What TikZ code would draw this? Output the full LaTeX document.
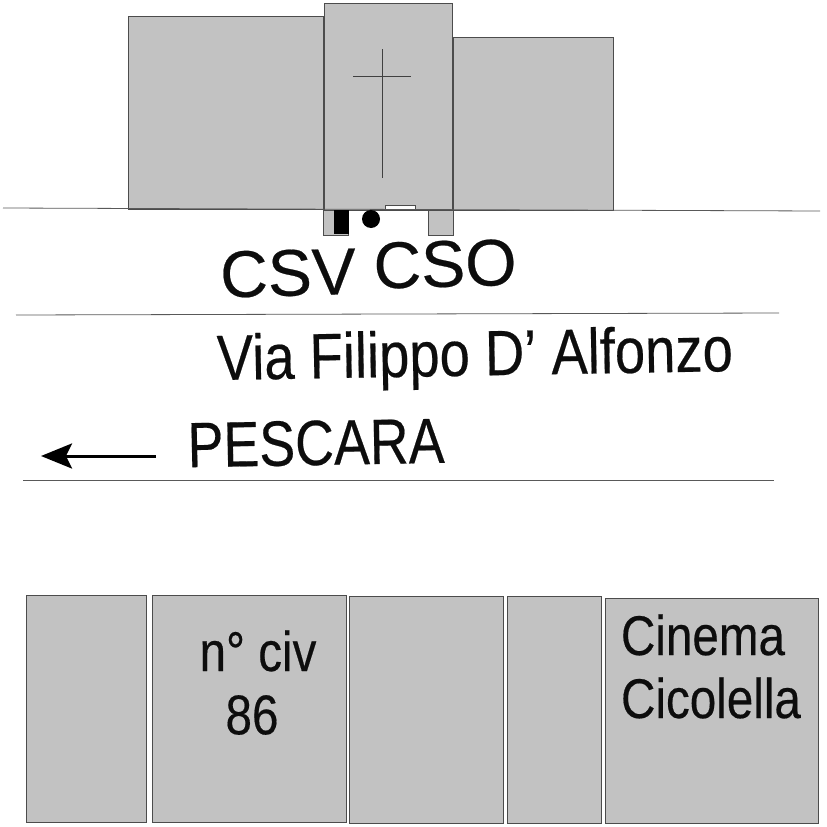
\documentclass[tikz,border=0pt]{standalone}
\usepackage{fontspec}
\usetikzlibrary{arrows.meta}
\setmainfont[FakeBold=0.35]{Liberation Sans}
\tikzset{
 bld/.style={draw=black!70,line width=0.8pt,fill=black!24},
 lbl/.style={inner sep=0pt,text=black!95},
 road/.style={draw=black!65,line width=0.8pt}
}
\newcommand{\pbox}[5]{\node[bld,anchor=north west,minimum width=#4*1pt-#2*1pt,minimum height=#5*1pt-#3*1pt,inner sep=0pt] (#1) at (#2pt,-#3pt) {};}
\begin{document}
\begin{tikzpicture}[x=1pt,y=1pt]
\useasboundingbox (0,-827) rectangle (827,0);
\pbox{b1}{128}{16}{323}{209}
\pbox{b3}{453}{37}{613}{210}
\pbox{st1}{323}{205}{348}{235}
\pbox{st2}{428}{205}{453}{235}
\pbox{ch}{324}{3}{452}{210}
\coordinate (c1) at (382,-49); \coordinate (c2) at (382,-178);
\coordinate (c3) at (353,-76); \coordinate (c4) at (411,-76);
\draw[draw=black!75,line width=0.7pt] (c1)--(c2) (c3)--(c4);
\node[draw=black!70,line width=0.8pt,fill=white,anchor=north west,minimum width=30pt,minimum height=5pt,inner sep=0pt] (door) at (385,-204.5) {};
\node[fill=black,anchor=north west,minimum width=14.5pt,minimum height=24pt,inner sep=0pt] (csv) at (334,-210) {};
\node[circle,fill=black,minimum size=18pt,inner sep=0pt] (cso) at (371,-219) {};
\coordinate (r1a) at (3,-208); \coordinate (r1b) at (820,-211);
\coordinate (r2a) at (16,-315); \coordinate (r2b) at (779,-313);
\coordinate (r3a) at (23,-480); \coordinate (r3b) at (774,-480);
\draw[road] (r1a)--(r1b); \draw[road] (r2a)--(r2b); \draw[road] (r3a)--(r3b);
\node[lbl,rotate=1.5,font=\fontsize{66}{66}\selectfont] (tcsv) at (288,-273) {CSV};
\node[lbl,rotate=1.5,font=\fontsize{66}{66}\selectfont] (tcso) at (445,-264) {CSO};
\node[lbl,rotate=1,xscale=.85,font=\fontsize{64}{64}\selectfont] (tvia) at (475,-359) {Via Filippo D’ Alfonzo};
\node[lbl,rotate=1,xscale=.84,font=\fontsize{64}{64}\selectfont] (tpes) at (316,-443) {PESCARA};
\coordinate (a1) at (156,-456); \coordinate (a2) at (41,-456);
\draw[-{Stealth[length=31pt,width=25pt,inset=6pt]},line width=3pt,black] (a1)--(a2);
\pbox{h1}{26}{595}{146}{822}
\pbox{h2}{152}{595}{346}{822}
\pbox{h3}{349}{596}{503}{823}
\pbox{h4}{507}{596}{601}{823}
\pbox{h5}{605}{598}{818}{823}
\node[lbl,xscale=.85,font=\fontsize{56}{56}\selectfont] (tn) at (258,-651) {n° civ};
\node[lbl,xscale=.85,font=\fontsize{56}{56}\selectfont] (t86) at (252,-715) {86};
\node[lbl,xscale=.85,font=\fontsize{56}{56}\selectfont] (tc1) at (703,-635) {Cinema};
\node[lbl,xscale=.85,font=\fontsize{56}{56}\selectfont] (tc2) at (711,-698) {Cicolella};
\end{tikzpicture}
\end{document}
